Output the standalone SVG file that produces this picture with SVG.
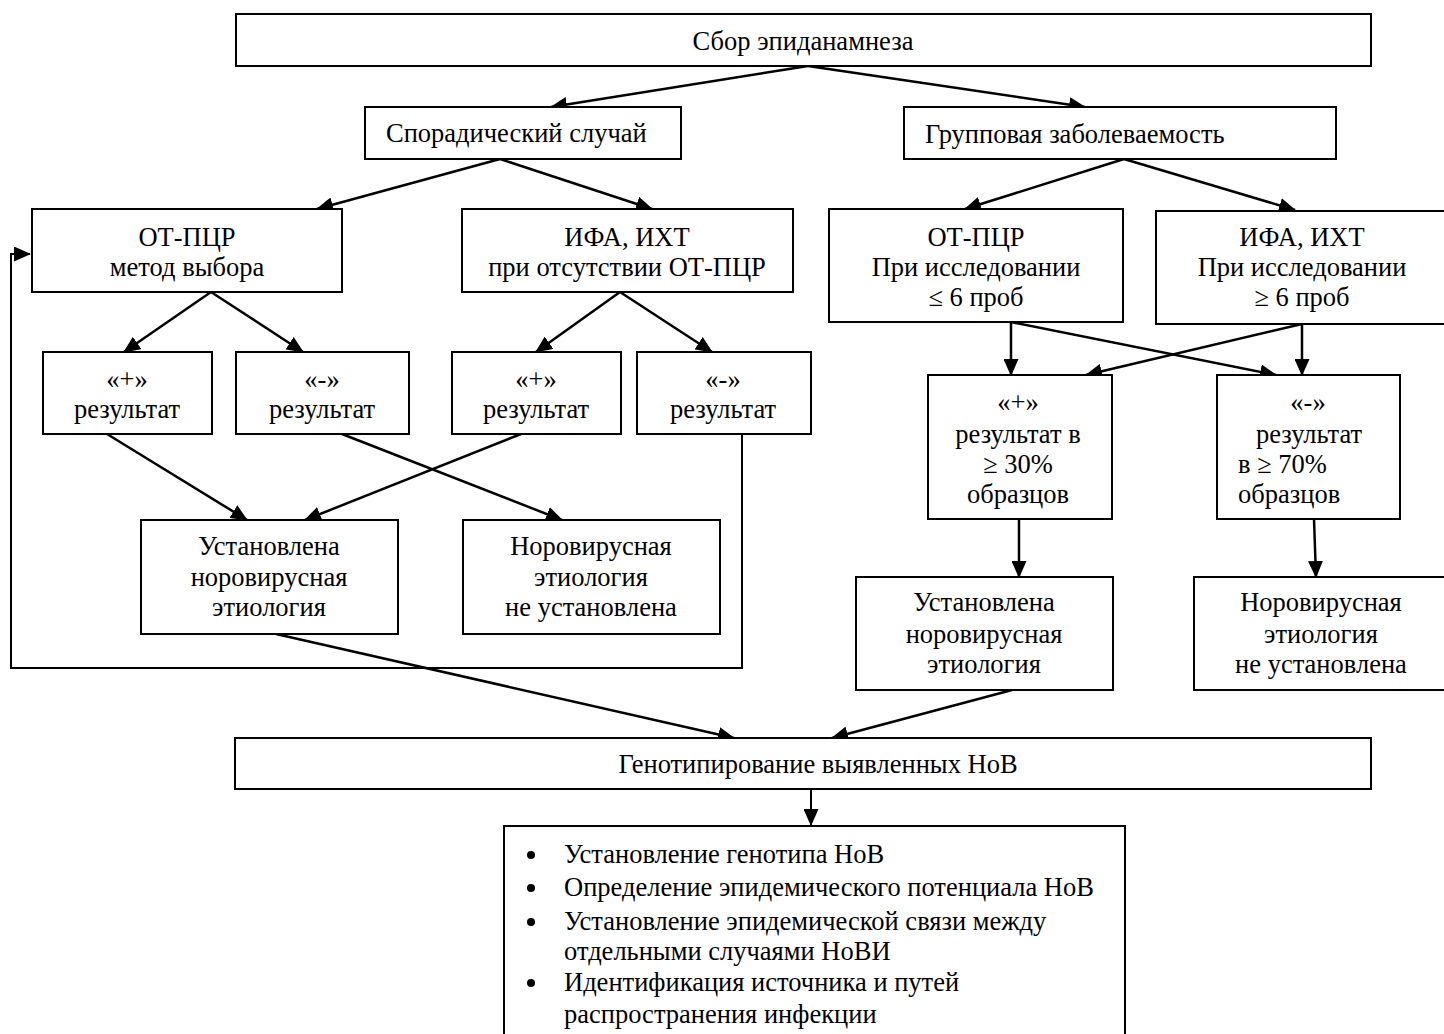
<svg xmlns="http://www.w3.org/2000/svg" width="1444" height="1034" viewBox="0 0 1444 1034">
<style>
.box{fill:#fff;stroke:#000;stroke-width:2}
.t{font-family:"Liberation Serif","Times New Roman",serif;font-size:26.5px;fill:#000}
.c{text-anchor:middle}
.ln{fill:none;stroke:#000;stroke-width:2.5}
.b{fill:#000}
</style>
<defs>
<marker id="ah" markerUnits="userSpaceOnUse" markerWidth="17" markerHeight="15" refX="16" refY="7.5" orient="auto">
<path d="M0,0 L17,7.5 L0,15 Z" fill="#000"/>
</marker>
</defs>
<rect width="1444" height="1034" fill="#fff"/>

<g id="connectors">
<line class="ln" x1="808" y1="66" x2="551" y2="107" marker-end="url(#ah)"/>
<line class="ln" x1="808" y1="66" x2="1085" y2="107" marker-end="url(#ah)"/>
<line class="ln" x1="500" y1="159" x2="317" y2="209" marker-end="url(#ah)"/>
<line class="ln" x1="500" y1="159" x2="652" y2="209" marker-end="url(#ah)"/>
<line class="ln" x1="1124" y1="159" x2="965" y2="209" marker-end="url(#ah)"/>
<line class="ln" x1="1124" y1="159" x2="1295" y2="210" marker-end="url(#ah)"/>
<line class="ln" x1="211" y1="292" x2="124" y2="352" marker-end="url(#ah)"/>
<line class="ln" x1="211" y1="292" x2="303" y2="352" marker-end="url(#ah)"/>
<line class="ln" x1="620" y1="292" x2="536" y2="352" marker-end="url(#ah)"/>
<line class="ln" x1="620" y1="292" x2="712" y2="352" marker-end="url(#ah)"/>
<line class="ln" x1="107" y1="434" x2="247" y2="520" marker-end="url(#ah)"/>
<line class="ln" x1="342" y1="434" x2="562" y2="520" marker-end="url(#ah)"/>
<line class="ln" x1="521" y1="434" x2="305" y2="520" marker-end="url(#ah)"/>
<polyline class="ln" style="stroke-width:2" points="742,434 742,668 11,668 11,254 30,254" marker-end="url(#ah)"/>
<line class="ln" x1="1011" y1="322" x2="1011" y2="375" marker-end="url(#ah)"/>
<line class="ln" x1="1302" y1="324" x2="1302" y2="375" marker-end="url(#ah)"/>
<line class="ln" x1="1011" y1="322" x2="1276" y2="375" marker-end="url(#ah)"/>
<line class="ln" x1="1302" y1="324" x2="1086" y2="375" marker-end="url(#ah)"/>
<line class="ln" x1="1019" y1="519" x2="1019" y2="577" marker-end="url(#ah)"/>
<line class="ln" x1="1314" y1="519" x2="1316" y2="577" marker-end="url(#ah)"/>
<line class="ln" x1="276" y1="634" x2="734" y2="738" marker-end="url(#ah)"/>
<line class="ln" x1="1012" y1="690" x2="832" y2="738" marker-end="url(#ah)"/>
<line class="ln" style="stroke-width:2" x1="811" y1="789" x2="811" y2="825" marker-end="url(#ah)"/>
</g>

<g id="n-sbor">
<rect class="box" x="236" y="14" width="1135" height="52"/>
<text class="t c" x="803" y="50">Сбор эпиданамнеза</text>
</g>
<g id="n-sporadic">
<rect class="box" x="365" y="107" width="316" height="52"/>
<text class="t" x="386" y="142">Спорадический случай</text>
</g>
<g id="n-group">
<rect class="box" x="904" y="107" width="432" height="52"/>
<text class="t" x="925" y="143">Групповая заболеваемость</text>
</g>
<g id="n-pcr1">
<rect class="box" x="32" y="209" width="310" height="83"/>
<text class="t c" x="187" y="246">ОТ-ПЦР</text>
<text class="t c" x="187" y="276">метод выбора</text>
</g>
<g id="n-ifa1">
<rect class="box" x="462" y="209" width="331" height="83"/>
<text class="t c" x="627" y="246">ИФА, ИХТ</text>
<text class="t c" x="627" y="276">при отсутствии ОТ-ПЦР</text>
</g>
<g id="n-pcr2">
<rect class="box" x="829" y="209" width="294" height="113"/>
<text class="t c" x="976" y="246">ОТ-ПЦР</text>
<text class="t c" x="976" y="276">При исследовании</text>
<text class="t c" x="976" y="306">≤ 6 проб</text>
</g>
<g id="n-ifa2">
<rect class="box" x="1156" y="211" width="300" height="113"/>
<text class="t c" x="1302" y="246">ИФА, ИХТ</text>
<text class="t c" x="1302" y="276">При исследовании</text>
<text class="t c" x="1302" y="306">≥ 6 проб</text>
</g>
<g id="n-plus1">
<rect class="box" x="43" y="352" width="169" height="82"/>
<text class="t c" x="127" y="388">«+»</text>
<text class="t c" x="127" y="418">результат</text>
</g>
<g id="n-minus1">
<rect class="box" x="236" y="352" width="173" height="82"/>
<text class="t c" x="322" y="388">«-»</text>
<text class="t c" x="322" y="418">результат</text>
</g>
<g id="n-plus2">
<rect class="box" x="452" y="352" width="169" height="82"/>
<text class="t c" x="536" y="388">«+»</text>
<text class="t c" x="536" y="418">результат</text>
</g>
<g id="n-minus2">
<rect class="box" x="637" y="352" width="174" height="82"/>
<text class="t c" x="723" y="388">«-»</text>
<text class="t c" x="723" y="418">результат</text>
</g>
<g id="n-est1">
<rect class="box" x="141" y="520" width="257" height="114"/>
<text class="t c" x="269" y="555">Установлена</text>
<text class="t c" x="269" y="586">норовирусная</text>
<text class="t c" x="269" y="616">этиология</text>
</g>
<g id="n-notest1">
<rect class="box" x="463" y="520" width="257" height="114"/>
<text class="t c" x="591" y="555">Норовирусная</text>
<text class="t c" x="591" y="586">этиология</text>
<text class="t c" x="591" y="616">не установлена</text>
</g>
<g id="n-plus3">
<rect class="box" x="928" y="375" width="184" height="144"/>
<text class="t c" x="1018" y="411">«+»</text>
<text class="t c" x="1018" y="443">результат в</text>
<text class="t c" x="1018" y="473">≥ 30%</text>
<text class="t c" x="1018" y="503">образцов</text>
</g>
<g id="n-minus3">
<rect class="box" x="1217" y="375" width="183" height="144"/>
<text class="t c" x="1308" y="411">«-»</text>
<text class="t c" x="1309" y="443">результат</text>
<text class="t" x="1238" y="473">в ≥ 70%</text>
<text class="t" x="1238" y="503">образцов</text>
</g>
<g id="n-est2">
<rect class="box" x="856" y="577" width="257" height="113"/>
<text class="t c" x="984" y="611">Установлена</text>
<text class="t c" x="984" y="643">норовирусная</text>
<text class="t c" x="984" y="673">этиология</text>
</g>
<g id="n-notest2">
<rect class="box" x="1194" y="577" width="260" height="113"/>
<text class="t c" x="1321" y="611">Норовирусная</text>
<text class="t c" x="1321" y="643">этиология</text>
<text class="t c" x="1321" y="673">не установлена</text>
</g>
<g id="n-genotype">
<rect class="box" x="235" y="738" width="1136" height="51"/>
<text class="t c" x="818" y="773">Генотипирование выявленных НоВ</text>
</g>
<g id="n-results">
<rect class="box" x="504" y="826" width="621" height="220"/>
<circle class="b" cx="531" cy="855" r="4"/>
<text class="t" x="564" y="863">Установление генотипа НоВ</text>
<circle class="b" cx="531" cy="888" r="4"/>
<text class="t" x="564" y="896">Определение эпидемического потенциала НоВ</text>
<circle class="b" cx="531" cy="922" r="4"/>
<text class="t" x="564" y="930">Установление эпидемической связи между</text>
<text class="t" x="564" y="960">отдельными случаями НоВИ</text>
<circle class="b" cx="531" cy="983" r="4"/>
<text class="t" x="564" y="991">Идентификация источника и путей</text>
<text class="t" x="564" y="1023">распространения инфекции</text>
</g>
</svg>
